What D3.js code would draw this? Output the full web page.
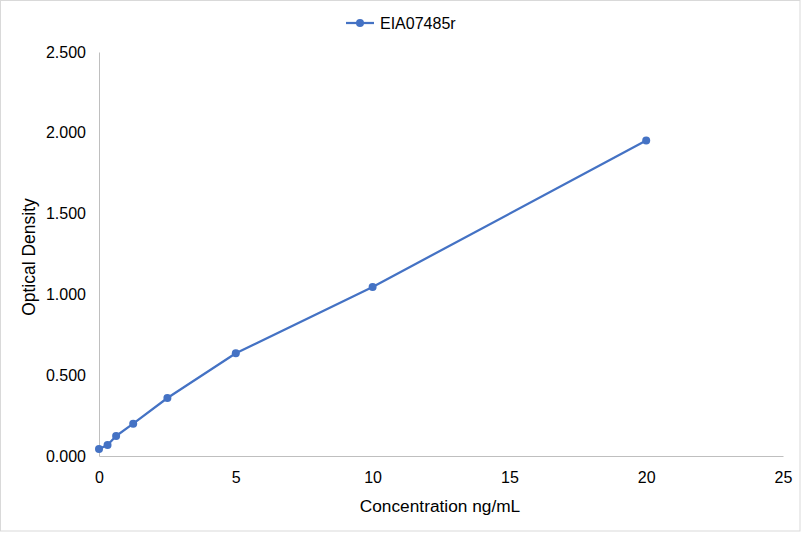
<!DOCTYPE html>
<html>
<head>
<meta charset="utf-8">
<script src="https://cdn.jsdelivr.net/npm/d3@7"></script>
<style>
  html, body { margin: 0; padding: 0; background: #fff; }
  svg { display: block; font-family: "Liberation Sans", Arial, sans-serif; }
</style>
</head>
<body>
<svg id="chart"></svg>
<script>
// --- Data ---
const seriesName = "EIA07485r";
const concentrations = [0, 0.3125, 0.625, 1.25, 2.5, 5, 10, 20];
const densities = [0.043, 0.068, 0.124, 0.2, 0.359, 0.636, 1.046, 1.952];
const xTicks = [0, 5, 10, 15, 20, 25];
const yTicks = [0, 0.5, 1, 1.5, 2, 2.5];

const width = 801;
const height = 533;
const margin = { top: 52, right: 18, bottom: 77, left: 99 };
const blue = "#4472C4";

const svg = d3.select("#chart").attr("width", width).attr("height", height);

// outer chart border
svg.append("rect")
    .attr("x", 0.5).attr("y", 0.5)
    .attr("width", width - 1.5).attr("height", height - 2.5)
    .attr("fill", "#fff")
    .attr("stroke", "#d9d9d9");

const x = d3.scaleLinear().domain([0, 25]).range([margin.left, width - margin.right]);
const y = d3.scaleLinear().domain([0, 2.5]).range([height - margin.bottom, margin.top]);

// --- Axes ---
const xAxis = svg.append("g")
    .attr("transform", `translate(0,${y(0)})`)
    .call(d3.axisBottom(x).tickValues(xTicks).tickSize(0).tickPadding(16));

const yAxis = svg.append("g")
    .attr("transform", `translate(${x(0)},0)`)
    .call(d3.axisLeft(y).tickValues(yTicks).tickSize(0).tickPadding(13)
        .tickFormat(d3.format(".3f")));

[xAxis, yAxis].forEach((a) => {
    a.select(".domain").attr("stroke", "#bfbfbf").attr("stroke-width", 1);
    a.selectAll("text")
        .attr("fill", "#000")
        .style("font-size", "16px")
        .style("font-family", "'Liberation Sans', Arial, sans-serif");
});

// axis titles
svg.append("text")
    .attr("x", (x(0) + x(25)) / 2 - 1)
    .attr("y", 512)
    .attr("text-anchor", "middle")
    .style("font-size", "17.3px")
    .text("Concentration ng/mL");

svg.append("text")
    .attr("transform", `translate(35,${(y(0) + y(2.5)) / 2 + 3}) rotate(-90)`)
    .attr("text-anchor", "middle")
    .style("font-size", "17.5px")
    .text("Optical Density");

// --- Series ---
const pts = concentrations.map((c, i) => [c, densities[i]]);

svg.append("path")
    .datum(pts)
    .attr("fill", "none")
    .attr("stroke", blue)
    .attr("stroke-width", 2.25)
    .attr("stroke-linejoin", "round")
    .attr("d", d3.line().x((d) => x(d[0])).y((d) => y(d[1])));

svg.selectAll(".pt")
    .data(pts)
    .enter()
    .append("circle")
    .attr("class", "pt")
    .attr("cx", (d) => x(d[0]))
    .attr("cy", (d) => y(d[1]))
    .attr("r", 4)
    .attr("fill", blue);

// --- Legend ---
const legend = svg.append("g").attr("transform", "translate(346,23)");
legend.append("line")
    .attr("x1", 0).attr("x2", 28)
    .attr("stroke", blue).attr("stroke-width", 2.25);
legend.append("circle").attr("cx", 14).attr("r", 4).attr("fill", blue);
legend.append("text")
    .attr("x", 34).attr("y", 6)
    .style("font-size", "16px")
    .text(seriesName);
</script>
</body>
</html>
